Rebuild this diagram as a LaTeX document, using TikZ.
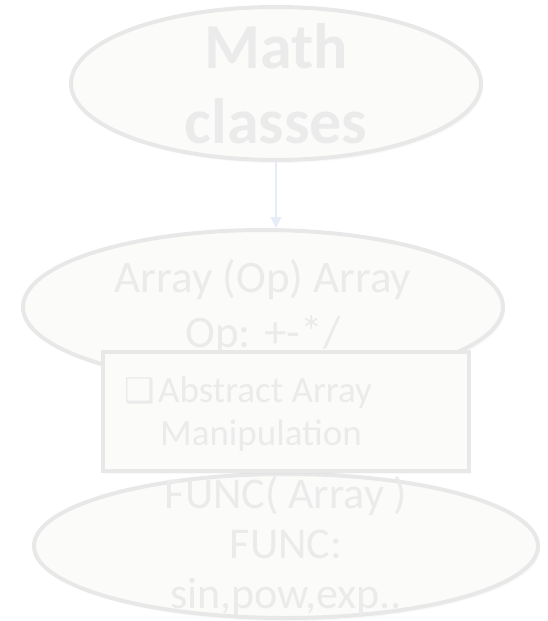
\documentclass[tikz,border=0pt]{standalone}
\usepackage{fontspec}
\setmainfont{Carlito}
\newfontfamily\symfont{DejaVu Sans}
\usetikzlibrary{shapes.geometric,arrows.meta,shadows}
\definecolor{shapefill}{RGB}{251,251,250}
\definecolor{shapeline}{RGB}{232,232,232}
\definecolor{shapetext}{RGB}{235,235,235}
\definecolor{arrowline}{RGB}{230,237,248}

\begin{document}
\begin{tikzpicture}[x=1pt,y=-1pt]
        \useasboundingbox (0,0) rectangle (548,621);
        \begin{scope}[every node/.style={ellipse,draw=shapeline,fill=shapefill,line width=4pt,inner sep=0pt,
                drop shadow={opacity=0.05,shadow xshift=2pt,shadow yshift=-3pt}}]
            \node[minimum width=410pt,minimum height=153pt] (math) at (276,83.5) {};
            \node[minimum width=480pt,minimum height=154pt] (array) at (263,307) {};
            \node[minimum width=504pt,minimum height=144pt] (func) at (286,546) {};
        \end{scope}
        \begin{scope}[every node/.style={text=shapetext,align=center,inner sep=0pt}]
            \node[font=\bfseries\fontsize{64}{75}\selectfont] (mathtxt) at (math.center) {Math\\classes};
            \node[font=\fontsize{45}{55}\selectfont] (arraytxt) at (array.center) {Array (Op) Array\\Op: +-*/};
            \node[font=\fontsize{44}{50}\selectfont] (functxt) at (func.center) {FUNC( Array )\\FUNC:\\sin,pow,exp..};
        \end{scope}
        \begin{scope}[every edge/.style={draw=arrowline,line width=1.5pt}]
            \path [-{Triangle[length=11pt,width=11pt]}] (math.south) edge (math.south |- array.north);
        \end{scope}
        \node[draw=shapeline,fill=shapefill,line width=4pt,inner sep=0pt,minimum width=366pt,minimum height=119pt,
            drop shadow={opacity=0.05,shadow xshift=2pt,shadow yshift=-3pt}] (absbox) at (286,411.5) {};
        \begin{scope}[every node/.style={text=shapetext,anchor=base west,inner sep=0pt,font=\fontsize{37}{43}\selectfont}]
            \node[font=\symfont\fontsize{34}{40}\selectfont] (check) at (124,402) {❑};
            \node (abstxt) at (158,402) {Abstract Array};
            \node (maniptxt) at (160,445) {Manipulation};
        \end{scope}
    \end{tikzpicture}
\end{document}
